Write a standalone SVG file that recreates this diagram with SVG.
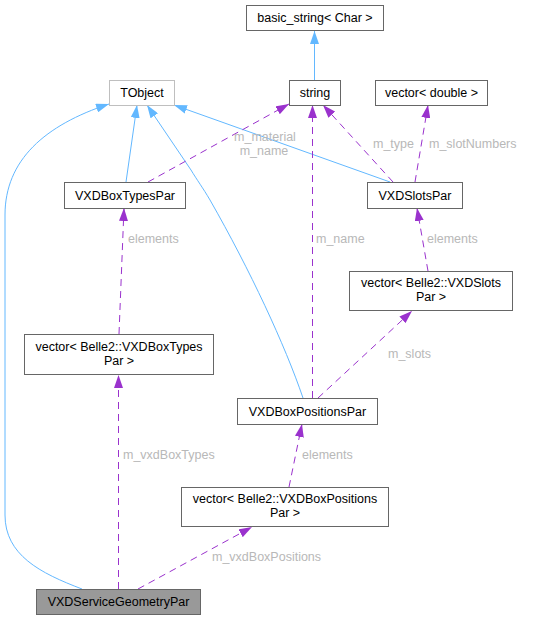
<svg xmlns="http://www.w3.org/2000/svg" width="551" height="620" viewBox="0 0 551 620">
<style>
text{font-family:"Liberation Sans",Arial,sans-serif;font-size:12.5px;fill:#000}
.n rect{fill:#fff;stroke:#666;stroke-width:1}
.n text{text-anchor:middle}
.lbl{fill:#b8b8b8}
.inh{fill:none;stroke:#63b8ff;stroke-width:1}
.use{fill:none;stroke:#9a32cd;stroke-width:1;stroke-dasharray:7,5}
</style>
<defs>
<marker id="ab" viewBox="0 0 13 9" refX="13" refY="4.5" markerWidth="13" markerHeight="9" markerUnits="userSpaceOnUse" orient="auto"><path d="M0,0 L13,4.5 L0,9 z" fill="#63b8ff"/></marker>
<marker id="ap" viewBox="0 0 13 9" refX="13" refY="4.5" markerWidth="13" markerHeight="9" markerUnits="userSpaceOnUse" orient="auto"><path d="M0,0 L13,4.5 L0,9 z" fill="#9a32cd"/></marker>
</defs>
<rect width="551" height="620" fill="#fff"/>
<g id="edges">
<path class="inh" marker-end="url(#ab)" d="M314.5,80 L314.5,31"/>
<path class="inh" marker-end="url(#ab)" d="M82,589 C40,573 5,555 5,515 L5,215 C5,160 45,125 109,104"/>
<path class="inh" marker-end="url(#ab)" d="M126,182 L137,105"/>
<path class="inh" marker-end="url(#ab)" d="M303,398 C285,345 250,270 210,200 C203,188 197,180 191,170 L147,105"/>
<path class="inh" marker-end="url(#ab)" d="M390,182 L174,105"/>
<path class="use" marker-end="url(#ap)" d="M148,182 L289,104"/>
<path class="use" marker-end="url(#ap)" d="M312.5,398 L312.5,105"/>
<path class="use" marker-end="url(#ap)" d="M393,182 L323,105"/>
<path class="use" marker-end="url(#ap)" d="M415,182 L428,105"/>
<path class="use" marker-end="url(#ap)" d="M428,271 L417,208"/>
<path class="use" marker-end="url(#ap)" d="M119,334 L124,208"/>
<path class="use" marker-end="url(#ap)" d="M318,398 L412,311"/>
<path class="use" marker-end="url(#ap)" d="M118.5,589 L118.5,375"/>
<path class="use" marker-end="url(#ap)" d="M289,487 L302,424"/>
<path class="use" marker-end="url(#ap)" d="M138,589 L252,527"/>
<text class="lbl" x="265" y="140.5" text-anchor="middle">m_material</text>
<text class="lbl" x="264" y="155" text-anchor="middle">m_name</text>
<text class="lbl" x="316" y="242.5">m_name</text>
<text class="lbl" x="373" y="147.5">m_type</text>
<text class="lbl" x="429" y="147.5">m_slotNumbers</text>
<text class="lbl" x="427" y="242.5">elements</text>
<text class="lbl" x="128" y="242.5">elements</text>
<text class="lbl" x="388" y="357.5">m_slots</text>
<text class="lbl" x="123" y="458.5">m_vxdBoxTypes</text>
<text class="lbl" x="302" y="458.5">elements</text>
<text class="lbl" x="212" y="561">m_vxdBoxPositions</text>
</g>
<g id="basic_string" class="n"><rect x="246.5" y="5.5" width="137" height="25"/><text x="315" y="22">basic_string&lt; Char &gt;</text></g>
<g id="string" class="n"><rect x="289.5" y="80.5" width="51" height="25"/><text x="315" y="97">string</text></g>
<g id="vector_double" class="n"><rect x="375.5" y="80.5" width="112" height="25"/><text x="431.5" y="97">vector&lt; double &gt;</text></g>
<g id="TObject" class="n"><rect x="109.5" y="80.5" width="65" height="25" style="stroke:#bfbfbf"/><text x="142" y="97">TObject</text></g>
<g id="VXDBoxTypesPar" class="n"><rect x="64.5" y="182.5" width="121" height="26"/><text x="125" y="199.5">VXDBoxTypesPar</text></g>
<g id="VXDSlotsPar" class="n"><rect x="367.5" y="182.5" width="95" height="26"/><text x="415" y="199.5">VXDSlotsPar</text></g>
<g id="vector_slots" class="n"><rect x="349.5" y="271.5" width="163" height="39"/><text x="431" y="286.5">vector&lt; Belle2::VXDSlots</text><text x="431" y="301">Par &gt;</text></g>
<g id="vector_boxtypes" class="n"><rect x="24.5" y="334.5" width="189" height="40"/><text x="119" y="350.5">vector&lt; Belle2::VXDBoxTypes</text><text x="119" y="365">Par &gt;</text></g>
<g id="VXDBoxPositionsPar" class="n"><rect x="237.5" y="398.5" width="140" height="26"/><text x="307.5" y="415.5">VXDBoxPositionsPar</text></g>
<g id="vector_boxpositions" class="n"><rect x="181.5" y="487.5" width="207" height="39"/><text x="285" y="502.5">vector&lt; Belle2::VXDBoxPositions</text><text x="285" y="517">Par &gt;</text></g>
<g id="VXDServiceGeometryPar" class="n"><rect x="36.5" y="589.5" width="164" height="25" style="fill:#999"/><text x="118.5" y="606">VXDServiceGeometryPar</text></g>
</svg>
